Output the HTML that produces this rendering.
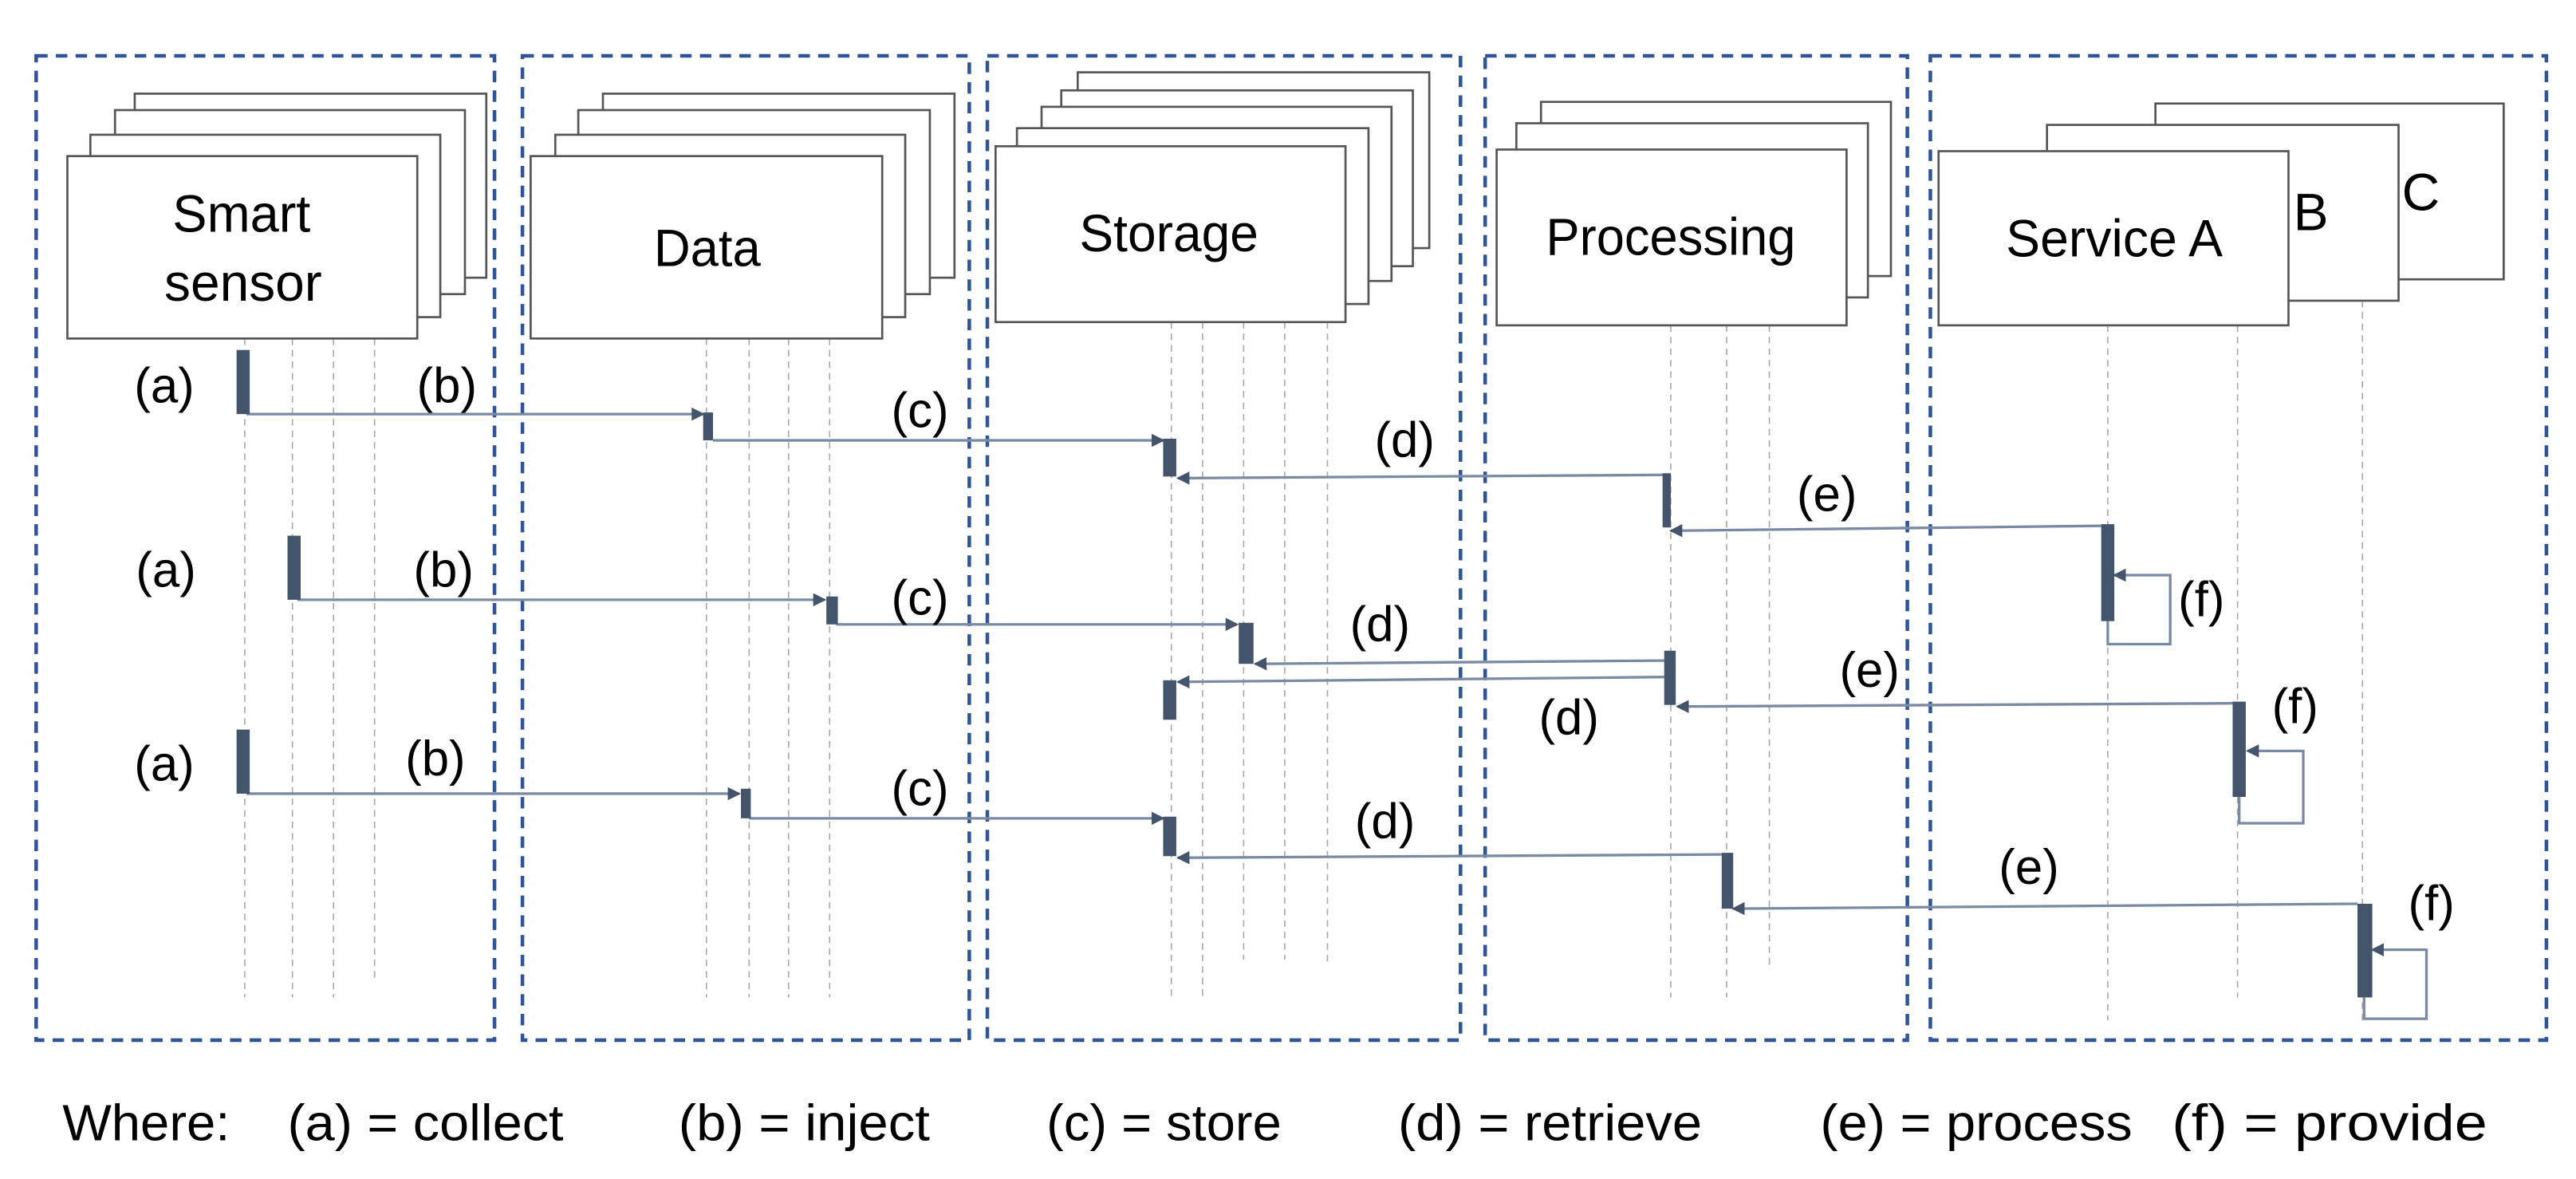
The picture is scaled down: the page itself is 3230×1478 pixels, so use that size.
<!DOCTYPE html>
<html><head><meta charset="utf-8"><style>
html,body{margin:0;padding:0;background:#fff;}
svg{display:block;}
text{font-family:"Liberation Sans",sans-serif;fill:#000;}
</style></head><body>
<svg width="3230" height="1478" viewBox="0 0 1568 717.5" xmlns="http://www.w3.org/2000/svg">
<defs>
<marker id="ah" markerWidth="8" markerHeight="8" refX="7" refY="4" orient="auto" markerUnits="userSpaceOnUse">
<path d="M0,0 L8,4 L0,8 z" fill="#44546a"/></marker>
</defs>
<g fill="none" stroke="#2f5597" stroke-width="2.2" stroke-dasharray="7,5">
<rect x="22" y="34" width="279" height="599"/>
<rect x="318" y="34" width="272" height="599"/>
<rect x="601" y="34" width="288" height="599"/>
<rect x="904" y="34" width="257" height="599"/>
<rect x="1175" y="34" width="375" height="599"/>
</g>
<g stroke="#aaa" stroke-width="0.8" stroke-dasharray="4,3">
<line x1="149" y1="206" x2="149" y2="607"/><line x1="178" y1="206" x2="178" y2="607"/>
<line x1="203" y1="206" x2="203" y2="607"/><line x1="228" y1="206" x2="228" y2="596"/>
<line x1="430" y1="206" x2="430" y2="607"/><line x1="456" y1="206" x2="456" y2="607"/>
<line x1="480" y1="206" x2="480" y2="607"/><line x1="505" y1="206" x2="505" y2="607"/>
<line x1="713" y1="196" x2="713" y2="607"/><line x1="732" y1="196" x2="732" y2="607"/>
<line x1="757" y1="196" x2="757" y2="584"/><line x1="782" y1="196" x2="782" y2="584"/>
<line x1="808" y1="196" x2="808" y2="587"/>
<line x1="1017" y1="198" x2="1017" y2="607"/><line x1="1051" y1="198" x2="1051" y2="607"/>
<line x1="1077" y1="198" x2="1077" y2="587"/>
<line x1="1283" y1="198" x2="1283" y2="621"/><line x1="1362" y1="198" x2="1362" y2="607"/>
<line x1="1438" y1="183" x2="1438" y2="621"/>
</g>
<g fill="#fff" stroke="#555" stroke-width="1.3">
<rect x="82" y="57" width="214" height="112"/>
<rect x="70" y="67" width="213" height="112"/>
<rect x="55" y="82" width="213" height="111"/>
<rect x="41" y="95" width="213" height="111"/>
<rect x="367" y="57" width="214" height="112"/>
<rect x="352" y="67" width="214" height="112"/>
<rect x="338" y="82" width="213" height="111"/>
<rect x="323" y="95" width="214" height="111"/>
<rect x="656" y="44" width="214" height="107"/>
<rect x="646" y="55" width="214" height="107"/>
<rect x="634" y="65" width="213" height="106"/>
<rect x="619" y="78" width="214" height="107"/>
<rect x="606" y="89" width="213" height="107"/>
<rect x="938" y="62" width="213" height="106"/>
<rect x="923" y="75" width="214" height="106"/>
<rect x="911" y="91" width="213" height="107"/>
<rect x="1312" y="63" width="212" height="107"/>
<rect x="1246" y="76" width="214" height="107"/>
<rect x="1180" y="92" width="213" height="106"/>
</g>
<g font-size="32">
<text x="105" y="141" textLength="84" lengthAdjust="spacingAndGlyphs">Smart</text>
<text x="100" y="183" textLength="96" lengthAdjust="spacingAndGlyphs">sensor</text>
<text x="398" y="162" textLength="65" lengthAdjust="spacingAndGlyphs">Data</text>
<text x="657" y="153" textLength="109" lengthAdjust="spacingAndGlyphs">Storage</text>
<text x="941" y="155" textLength="152" lengthAdjust="spacingAndGlyphs">Processing</text>
<text x="1221" y="156" textLength="132" lengthAdjust="spacingAndGlyphs">Service A</text>
<text x="1396" y="140">B</text>
<text x="1462" y="128">C</text>
</g>
<g stroke="#7a8aa3" stroke-width="1.6" fill="none">
<line x1="150" y1="252" x2="428" y2="252" marker-end="url(#ah)"/>
<line x1="434" y1="268" x2="708" y2="268" marker-end="url(#ah)"/>
<line x1="1012" y1="289" x2="717" y2="291" marker-end="url(#ah)"/>
<line x1="1279" y1="320" x2="1017" y2="323" marker-end="url(#ah)"/>
<polyline points="1283,378 1283,392 1321,392 1321,350 1287,350" marker-end="url(#ah)"/>
<line x1="181" y1="365" x2="502" y2="365" marker-end="url(#ah)"/>
<line x1="509" y1="380" x2="753" y2="380" marker-end="url(#ah)"/>
<line x1="1013" y1="402" x2="764" y2="404" marker-end="url(#ah)"/>
<line x1="1013" y1="412" x2="717" y2="415" marker-end="url(#ah)"/>
<line x1="1359" y1="428" x2="1021" y2="430" marker-end="url(#ah)"/>
<polyline points="1363,485 1363,501 1402,501 1402,457 1368,457" marker-end="url(#ah)"/>
<line x1="150" y1="483" x2="450" y2="483" marker-end="url(#ah)"/>
<line x1="456" y1="498" x2="708" y2="498" marker-end="url(#ah)"/>
<line x1="1048" y1="520" x2="717" y2="522" marker-end="url(#ah)"/>
<line x1="1435" y1="550" x2="1055" y2="553" marker-end="url(#ah)"/>
<polyline points="1439,607 1439,620 1477,620 1477,578 1444,578" marker-end="url(#ah)"/>
</g>
<g fill="#44546a">
<rect x="144" y="213" width="8" height="39"/>
<rect x="428" y="251" width="6" height="17"/>
<rect x="708" y="267" width="8" height="23"/>
<rect x="1012" y="288" width="5" height="33"/>
<rect x="1279" y="319" width="8" height="59"/>
<rect x="175" y="326" width="8" height="39"/>
<rect x="503" y="363" width="7" height="17"/>
<rect x="754" y="379" width="9" height="25"/>
<rect x="1013" y="396" width="7" height="33"/>
<rect x="708" y="414" width="8" height="24"/>
<rect x="1359" y="427" width="8" height="58"/>
<rect x="144" y="444" width="8" height="39"/>
<rect x="451" y="480" width="6" height="18"/>
<rect x="708" y="497" width="8" height="24"/>
<rect x="1048" y="519" width="7" height="34"/>
<rect x="1435" y="550" width="9" height="57"/>
</g>
<g font-size="30" text-anchor="middle" dominant-baseline="central">
<text x="100" y="235">(a)</text><text x="272" y="235">(b)</text><text x="560" y="250">(c)</text>
<text x="855" y="268">(d)</text><text x="1112" y="301">(e)</text><text x="1340" y="365">(f)</text>
<text x="101" y="347">(a)</text><text x="270" y="347">(b)</text><text x="560" y="364">(c)</text>
<text x="840" y="380">(d)</text><text x="1138" y="408">(e)</text><text x="955" y="437">(d)</text>
<text x="1397" y="430">(f)</text>
<text x="100" y="465">(a)</text><text x="265" y="462">(b)</text><text x="560" y="480">(c)</text>
<text x="843" y="500">(d)</text><text x="1235" y="528">(e)</text><text x="1480" y="550">(f)</text>
</g>
<g font-size="31">
<text x="38" y="694" textLength="102" lengthAdjust="spacingAndGlyphs">Where:</text>
<text x="175" y="694" textLength="168" lengthAdjust="spacingAndGlyphs">(a) = collect</text>
<text x="413" y="694" textLength="153" lengthAdjust="spacingAndGlyphs">(b) = inject</text>
<text x="637" y="694" textLength="143" lengthAdjust="spacingAndGlyphs">(c) = store</text>
<text x="851" y="694" textLength="185" lengthAdjust="spacingAndGlyphs">(d) = retrieve</text>
<text x="1108" y="694" textLength="190" lengthAdjust="spacingAndGlyphs">(e) = process</text>
<text x="1322" y="694" textLength="192" lengthAdjust="spacingAndGlyphs">(f) = provide</text>
</g>
</svg>
</body></html>
